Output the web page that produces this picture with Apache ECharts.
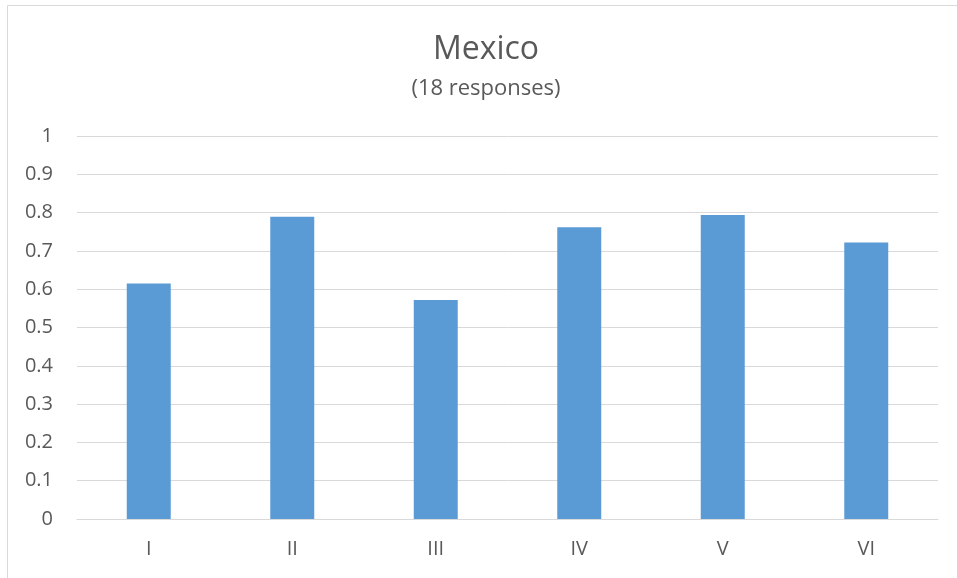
<!DOCTYPE html>
<html>
<head>
<meta charset="utf-8">
<script src="https://cdn.jsdelivr.net/npm/echarts@6/dist/echarts.min.js"></script>
<style>
html,body{margin:0;padding:0;background:#fff;}
#chart{width:957px;height:578px;}
</style>
</head>
<body>
<div id="chart"></div>
<script>
const categories = ['I', 'II', 'III', 'IV', 'V', 'VI'];
const values = [0.615, 0.789, 0.572, 0.762, 0.794, 0.722];
const titleText = 'Mexico';
const subtitleText = '(18 responses)';

const FONT = '"Open Sans", "Noto Sans", sans-serif';
const chart = echarts.init(document.getElementById('chart'));
chart.setOption({
  animation: false,
  backgroundColor: '#fff',
  title: {
    text: titleText,
    subtext: subtitleText,
    left: 486,
    textAlign: 'center',
    top: 34,
    padding: 0,
    itemGap: 12,
    textStyle: { fontFamily: FONT, fontSize: 32, fontWeight: 'normal', color: '#595959' },
    subtextStyle: { fontFamily: FONT, fontSize: 22, color: '#595959' }
  },
  graphic: [{
    type: 'rect',
    shape: { x: 7.5, y: 5.5, width: 1000, height: 1000 },
    style: { fill: 'none', stroke: '#d9d9d9', lineWidth: 1 },
    silent: true
  }],
  grid: { left: 77, right: 19, top: 136, bottom: 59 },
  xAxis: {
    type: 'category',
    data: categories,
    axisLine: { lineStyle: { color: '#d9d9d9', width: 1 } },
    axisTick: { show: false },
    axisLabel: { color: '#595959', fontFamily: FONT, fontSize: 20, margin: 20 }
  },
  yAxis: {
    type: 'value',
    min: 0,
    max: 1,
    interval: 0.1,
    axisLine: { show: false },
    axisTick: { show: false },
    axisLabel: { color: '#595959', fontFamily: FONT, fontSize: 20, margin: 24,
      formatter: v => String(Math.round(v * 10) / 10) },
    splitLine: { lineStyle: { color: '#d9d9d9', width: 1 } }
  },
  series: [{
    type: 'bar',
    data: values,
    barWidth: 44,
    itemStyle: { color: '#5b9bd5' }
  }]
});
</script>
</body>
</html>
